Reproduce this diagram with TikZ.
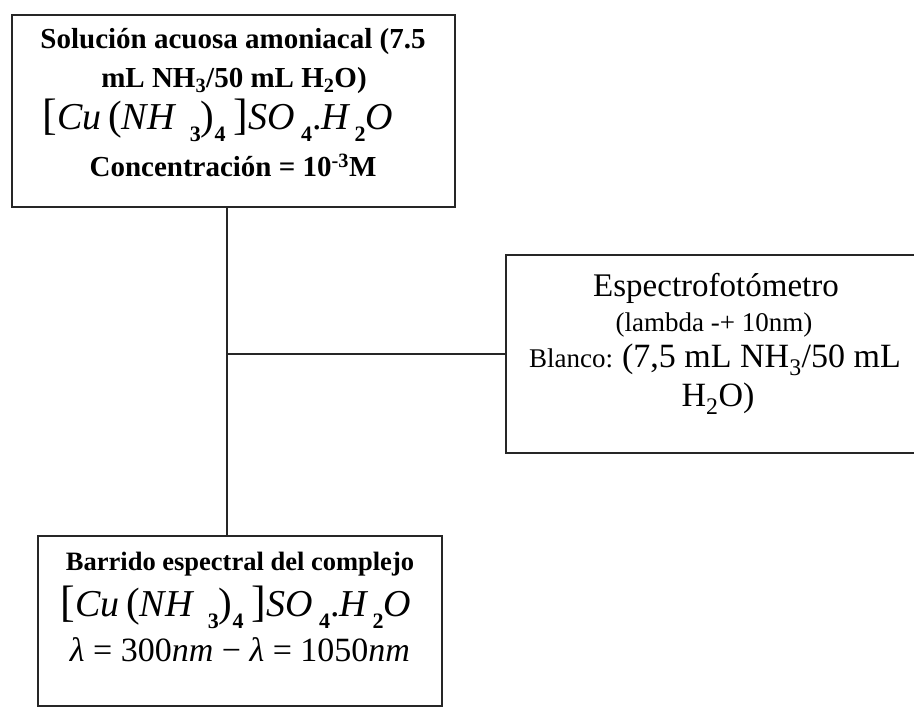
\documentclass[tikz,border=0pt]{standalone}
\usepackage{fontspec}
\setmainfont{Liberation Serif}
\newcommand{\fs}[1]{\fontsize{#1}{#1}\selectfont}
% lowered index digit used in the chemical formula
\newcommand{\idx}[1]{\raisebox{-0.30em}{\fs{22}\bfseries #1}}
% tetraamminecopper(II) sulfate monohydrate, set in the style of an equation editor
\newcommand{\cuform}{{\fs{44}[}{\fs{38}\itshape Cu}\,{\fs{41}(}{\fs{38}\itshape NH}\hspace{0.4em}\idx{3}{\fs{41})}\idx{4}\hspace{0.2em}{\fs{44}]}\hspace{0.03em}{\fs{38}\itshape SO}\hspace{0.15em}\idx{4}{\fs{38}.\itshape H}\hspace{0.15em}\idx{2}{\fs{38}\itshape O}}
\tikzset{
  box/.style={draw=black!85, line width=2pt, inner sep=0pt},
  wire/.style={draw=black!85, line width=2pt},
  txt/.style={anchor=base, inner sep=0pt, font=\fs{29}\bfseries},
}
\begin{document}
\begin{tikzpicture}[x=1pt,y=-1pt]
\useasboundingbox[fill=white] (0,0) rectangle (914,708);

% boxes
\node[box, minimum width=443pt, minimum height=192pt] (src) at (233.5,111) {};
\node[box, minimum width=420pt, minimum height=198pt] (spec) at (716,354) {};
\node[box, minimum width=404pt, minimum height=170pt] (scan) at (240,621) {};

% connectors
\coordinate (tee) at (227,354);
\draw[wire] (src.south -| tee) -- (scan.north -| tee);
\draw[wire] (tee) -- (spec.west |- tee);

% text of the solution box
\node[txt] (s1) at (233,49) {Solución acuosa amoniacal (7.5};
\node[txt] (s2) at (234,88) {mL NH\textsubscript{3}/50 mL H\textsubscript{2}O)};
\node[txt, font=\fs{38}] (s3) at (218,130) {\cuform};
\node[txt] (s4) at (233,177) {Concentración = 10\textsuperscript{-3}M};

% text of the spectrophotometer box
\node[txt, font=\fs{33}] (e1) at (716,297) {Espectrofotómetro};
\node[txt, font=\fs{27}] (e2) at (714,332) {(lambda -+ 10nm)};
\node[txt, font=\fs{34}] (e3) at (715,368) {{\fs{27}Blanco: }(7,5 mL NH\textsubscript{3}/50 mL};
\node[txt, font=\fs{34}] (e4) at (718,407) {H\textsubscript{2}O)};

% text of the scan box
\node[txt, font=\fs{26.5}\bfseries] (b1) at (240,571) {Barrido espectral del complejo};
\node[txt, font=\fs{38}] (b2) at (236,617) {\cuform};
\node[txt, font=\fs{34}] (b3) at (240,662) {{\itshape λ} = 300{\itshape nm} − {\itshape λ} = 1050{\itshape nm}};
\end{tikzpicture}
\end{document}
